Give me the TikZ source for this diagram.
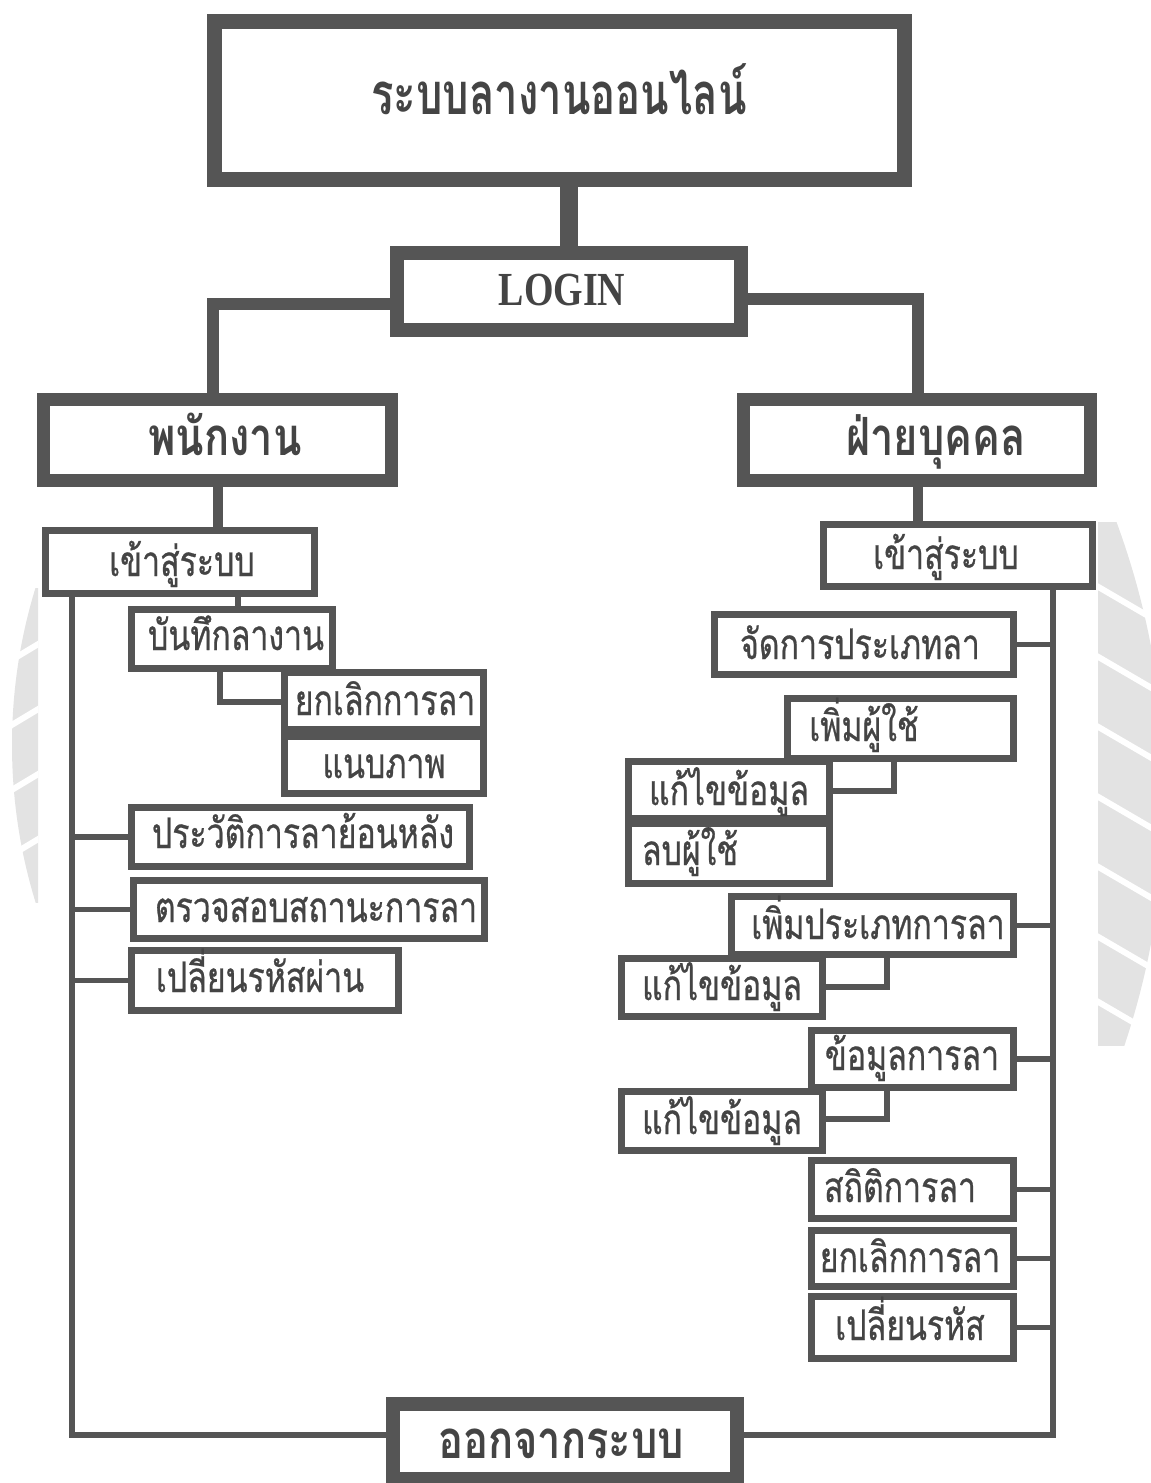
\documentclass[tikz,border=0pt]{standalone}
\usepackage{fontspec}
\newfontfamily\thai[Script=Thai,FakeStretch=0.76,FakeBold=0.6]{Loma}
\newfontfamily\thaibig[Script=Thai,FakeStretch=0.79,BoldFont={Loma Bold}]{Loma}
\newfontfamily\thaititle[Script=Thai,FakeStretch=0.72,BoldFont={Loma Bold}]{Loma}
\newfontfamily\latn[FakeStretch=0.8]{Liberation Serif}
\usetikzlibrary{calc}
\definecolor{ln}{HTML}{555555}
\definecolor{tcol}{HTML}{444444}
\definecolor{wm}{HTML}{E3E3E3}
\newcommand\fsm{\thai\fontsize{24}{26}\selectfont}
\newcommand\fbig{\thaibig\bfseries\fontsize{30}{32}\selectfont}
\newcommand\ftitle{\thaititle\bfseries\fontsize{33}{36}\selectfont}
\newcommand\flogin{\latn\bfseries\fontsize{27}{30}\selectfont}
% name x1 y1 x2 y2 lw
\newcommand\boxat[6]{%
  \node[boxst, line width={#6*0.02cm}, minimum width={(#4-#2-#6)*0.02cm},
        minimum height={(#5-#3-#6)*0.02cm}] (#1) at ({(#2+#4)/2},{(#3+#5)/2}) {};}
% name x ybase font text
\newcommand\lblat[5]{\node[txst,font=#4] (#1) at (#2,#3) {#5};}
\begin{document}
\begin{tikzpicture}[x=0.02cm,y=-0.02cm,
  boxst/.style={draw=ln, fill=white, inner sep=0pt, rectangle},
  txst/.style={anchor=base, inner sep=0pt, text=tcol},
  conn/.style={draw=ln, line width={#1*0.02cm}},
  conn/.default=5.5,
  gap/.style={draw=white, line width={6*0.02cm}}]
\useasboundingbox (0,0) rectangle (1151,1483);
% watermark (faint emblem edges)
\begin{scope}
  \clip (0,588) rectangle (38,902);
  \fill[wm] (546,745) circle (534);
  \foreach \y in {640,705,770,835}{\draw[gap] (-5,{\y+30}) -- (45,\y);}
\end{scope}
\begin{scope}
  \clip (1098,522) rectangle (1151,1045);
  \fill[wm] (376,795) circle (789);
  \foreach \y in {585,655,725,795,865,935,1000}{\draw[gap] (1095,\y) -- (1155,{\y+35});}
\end{scope}
% top level
\boxat{title}{207}{14}{912}{187}{15}
\boxat{login}{390}{246}{748}{337}{14}
\boxat{emp}{37}{393}{398}{487}{13}
\boxat{hr}{737}{393}{1097}{487}{13}
\boxat{exit}{386}{1397}{744}{1486}{14}
% left branch
\boxat{elogin}{42}{527}{318}{597}{7}
\boxat{save}{128}{606}{336}{672}{7}
\boxat{ecancel}{281}{669}{487}{733}{7}
\boxat{attach}{281}{733}{487}{797}{7}
\boxat{hist}{128}{804}{473}{870}{7}
\boxat{status}{130}{877}{488}{942}{7}
\boxat{chpw}{128}{947}{402}{1014}{7}
% right branch
\boxat{hlogin}{820}{521}{1096}{590}{7}
\boxat{mtype}{711}{611}{1017}{678}{7}
\boxat{adduser}{784}{695}{1017}{762}{7}
\boxat{edit1}{625}{758}{833}{822}{7}
\boxat{deluser}{625}{820}{833}{887}{7}
\boxat{addtype}{728}{893}{1017}{958}{7}
\boxat{edit2}{618}{955}{826}{1020}{7}
\boxat{leaveinfo}{808}{1027}{1017}{1091}{7}
\boxat{edit3}{618}{1088}{826}{1154}{7}
\boxat{stats}{808}{1157}{1017}{1222}{7}
\boxat{hcancel}{808}{1227}{1017}{1290}{7}
\boxat{hchpw}{808}{1293}{1017}{1362}{7}
% labels
\lblat{title-t}{559}{115}{\ftitle}{ระบบลางานออนไลน์}
\lblat{login-t}{562}{306}{\flogin}{LOGIN}
\lblat{emp-t}{225}{455}{\fbig}{พนักงาน}
\lblat{hr-t}{936}{455}{\fbig}{ฝ่ายบุคคล}
\lblat{exit-t}{561}{1458}{\fbig}{ออกจากระบบ}
\lblat{elogin-t}{182}{576}{\fsm}{เข้าสู่ระบบ}
\lblat{save-t}{236}{650}{\fsm}{บันทึกลางาน}
\lblat{ecancel-t}{385}{715}{\fsm}{ยกเลิกการลา}
\lblat{attach-t}{384}{778}{\fsm}{แนบภาพ}
\lblat{hist-t}{303}{848}{\fsm}{ประวัติการลาย้อนหลัง}
\lblat{status-t}{316}{922}{\fsm}{ตรวจสอบสถานะการลา}
\lblat{chpw-t}{260}{992}{\fsm}{เปลี่ยนรหัสผ่าน}
\lblat{hlogin-t}{946}{569}{\fsm}{เข้าสู่ระบบ}
\lblat{mtype-t}{860}{659}{\fsm}{จัดการประเภทลา}
\lblat{adduser-t}{864}{741}{\fsm}{เพิ่มผู้ใช้}
\lblat{edit1-t}{729}{805}{\fsm}{แก้ไขข้อมูล}
\lblat{deluser-t}{690}{865}{\fsm}{ลบผู้ใช้}
\lblat{addtype-t}{878}{939}{\fsm}{เพิ่มประเภทการลา}
\lblat{edit2-t}{722}{1000}{\fsm}{แก้ไขข้อมูล}
\lblat{leaveinfo-t}{912}{1070}{\fsm}{ข้อมูลการลา}
\lblat{edit3-t}{722}{1134}{\fsm}{แก้ไขข้อมูล}
\lblat{stats-t}{900}{1202}{\fsm}{สถิติการลา}
\lblat{hcancel-t}{910}{1272}{\fsm}{ยกเลิกการลา}
\lblat{hchpw-t}{910}{1340}{\fsm}{เปลี่ยนรหัส}
% junction coordinates
\coordinate (jT) at (569,200);
\coordinate (jL) at (213,304);
\coordinate (jR) at (918,299);
\coordinate (jE) at (218,500);
\coordinate (jH) at (918,500);
\coordinate (sL) at (72,1435);
\coordinate (sR) at (1053,1435);
\coordinate (jS) at (238,600);
\coordinate (jC) at (220,702);
\coordinate (jU) at (894,791);
\coordinate (jA) at (887,987);
\coordinate (jI) at (887,1119);
% connectors
\draw[conn=18] (title.south -| jT) -- (login.north -| jT);
\draw[conn=12] (login.west |- jL) -| (emp.north -| jL);
\draw[conn=12] (login.east |- jR) -| (hr.north -| jR);
\draw[conn=10] (emp.south -| jE) -- (elogin.north -| jE);
\draw[conn=10] (hr.south -| jH) -- (hlogin.north -| jH);
\draw[conn] (elogin.south -| sL) |- (exit.west |- sL);
\draw[conn] (hlogin.south -| sR) |- (exit.east |- sR);
\draw[conn] (elogin.south -| jS) -- (save.north -| jS);
\draw[conn] (save.south -| jC) |- (ecancel.west |- jC);
\draw[conn] (hist.west) -- (hist.west -| sL);
\draw[conn] (status.west) -- (status.west -| sL);
\draw[conn] (chpw.west) -- (chpw.west -| sL);
\draw[conn] (mtype.east) -- (mtype.east -| sR);
\draw[conn] (adduser.south -| jU) |- (edit1.east |- jU);
\draw[conn] (addtype.east) -- (addtype.east -| sR);
\draw[conn] (addtype.south -| jA) |- (edit2.east |- jA);
\draw[conn] (leaveinfo.east) -- (leaveinfo.east -| sR);
\draw[conn] (leaveinfo.south -| jI) |- (edit3.east |- jI);
\draw[conn] (stats.east) -- (stats.east -| sR);
\draw[conn] (hcancel.east) -- (hcancel.east -| sR);
\draw[conn] (hchpw.east) -- (hchpw.east -| sR);
\end{tikzpicture}
\end{document}
